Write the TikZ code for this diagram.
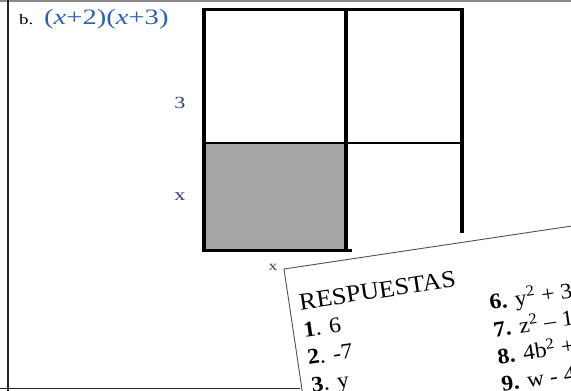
\documentclass[tikz,border=0pt]{standalone}
\usepackage{fontspec}
\setmainfont{Liberation Serif}[FakeStretch=1.08]
\newfontfamily\wideserif{Liberation Serif}[FakeStretch=1.3]
\usepackage{xcolor}
\definecolor{cMath}{HTML}{2F5FB0}
\definecolor{cLabel}{HTML}{2F3F78}
\definecolor{cFill}{HTML}{A6A6A6}
\definecolor{cRule}{HTML}{8A8A8A}
\definecolor{cEdge}{HTML}{505050}
\usepackage{tikz}
\usetikzlibrary{positioning}
\tikzset{
  grid-thick/.style={line width=3.8pt,draw=black,line join=miter},
  grid-thin/.style={line width=2.6pt,draw=black},
  page-rule/.style={line width=1.3pt,draw=cRule},
  node-label/.style={text=cLabel,inner sep=0pt,font=\wideserif\fontsize{17}{20}\selectfont},
  node-answer/.style={anchor=base west,inner sep=0pt,font=\fontsize{22}{26}\selectfont},
  paper-sheet/.style={draw=cEdge,line width=0.9pt,fill=white},
}

\begin{document}
\begin{tikzpicture}[x=1pt,y=-1pt]
  \useasboundingbox (0,0) rectangle (571,391);
  \clip (0,0) rectangle (571,391);
  % page rules
  \draw[page-rule] (0,1) -- (571,1);
  \draw[line width=1.2pt,draw=black!85] (8,0) -- (8,391);
  \draw[line width=1pt,draw=black!85] (0,388) -- (300,388);
  % exercise title
  \node[anchor=base west,inner sep=0pt,font=\wideserif\fontsize{14.5}{16}\selectfont] (title) at (19,24) {b.};
  \node[anchor=base west,inner sep=0pt,text=cMath,font=\wideserif\fontsize{22}{26}\selectfont] (expr) at (44,24)
    {(\textit{x}+2)(\textit{x}+3)};
  % area model
  \fill[cFill] (205,143) rectangle (345,249);
  \draw[grid-thick] (462,233) -- (462,9.5) -- (204,9.5) -- (204,250.5) -- (352,250.5);
  \draw[grid-thick] (346,9.5) -- (346,250.5);
  \draw[grid-thin] (204,143) -- (462,143);
  \node[node-label] (side-3) at (180,103) {3};
  \node[node-label] (side-x) at (180,197) {x};
  \node[node-label,font=\wideserif\fontsize{13.5}{15}\selectfont] (base-x) at (273,267) {x};
  % answer sheet
  \begin{scope}[shift={(284,269)},rotate=8.5,transform shape]
    \draw[paper-sheet] (0,0) rectangle (420,220);
    \node[node-answer,font=\fontsize{24}{28}\selectfont] (resp) at (10,43) {RESPUESTAS};
    \node[node-answer] (ans-1) at (10,71) {\textbf{1}. 6};
    \node[node-answer] (ans-2) at (10,98.5) {\textbf{2}. -7};
    \node[node-answer] (ans-3) at (10,126) {\textbf{3}. y};
    \node[node-answer] (ans-6) at (198,71) {\textbf{6.} y\textsuperscript{2} + 3};
    \node[node-answer] (ans-7) at (198,98.5) {\textbf{7.} z\textsuperscript{2} -- 1};
    \node[node-answer] (ans-8) at (198,126) {\textbf{8.} 4b\textsuperscript{2} +};
    \node[node-answer] (ans-9) at (198,153.5) {\textbf{9.} w - 4};
  \end{scope}
\end{tikzpicture}
\end{document}
